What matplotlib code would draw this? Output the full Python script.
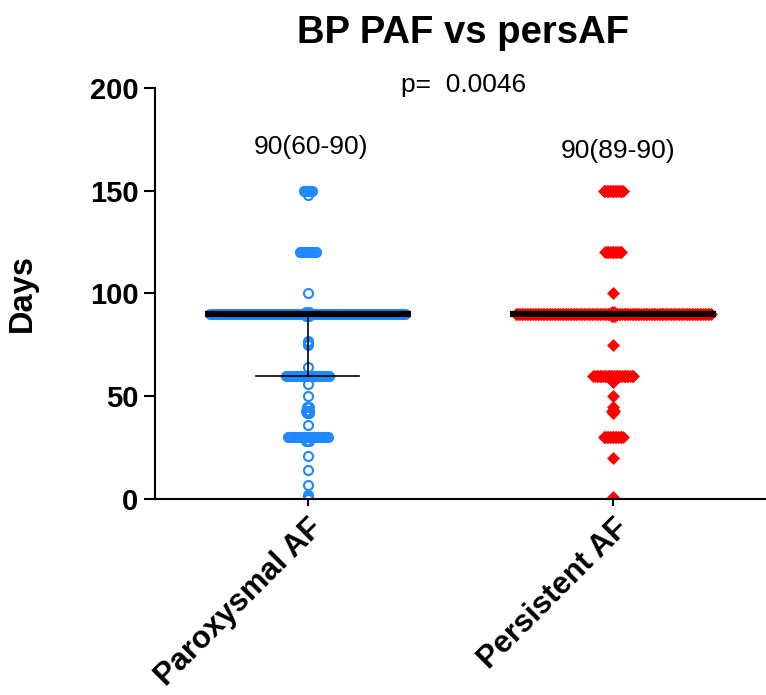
import numpy as np
import matplotlib
matplotlib.use("Agg")
import matplotlib.pyplot as plt

plt.rcParams['font.family'] = ['Liberation Sans', 'DejaVu Sans']

# data: value and how many points sit at it
groups = ["Paroxysmal AF", "Persistent AF"]

paf_values = [150, 148, 120, 100, 91, 90, 89, 77, 76, 75, 64, 60, 56, 50, 45, 43, 42, 36, 30, 28, 21, 14, 7, 2, 1, 0]
paf_counts = [6, 1, 11, 1, 3, 124, 3, 1, 1, 1, 1, 28, 1, 1, 2, 3, 2, 1, 26, 3, 1, 1, 1, 1, 1, 1]

pers_values = [150, 120, 100, 91, 90, 89, 75, 60, 57, 50, 45, 43, 42, 30, 20, 1]
pers_counts = [13, 11, 1, 2, 124, 3, 1, 26, 1, 1, 1, 2, 1, 13, 1, 1]

medians = [90, 90]
q1 = [60, 89]
q3 = [90, 90]
summary = ["90(60-90)", "90(89-90)"]
p_text = "p=  0.0046"

STEP = 0.0052  # horizontal spread between points at the same value


def spread(values, counts):
    xs, ys = [], []
    for v, n in zip(values, counts):
        off = (np.arange(n) - (n - 1) / 2.0) * STEP
        xs.extend(off)
        ys.extend([v] * n)
    return np.array(xs), np.array(ys)


fig = plt.figure(figsize=(7.66, 6.95), dpi=100)
ax = fig.add_axes([0.2023, 0.282, 0.7977, 0.5914])

x0, y0 = spread(paf_values, paf_counts)
ax.plot(x0 + 0, y0, 'o', mfc='none', mec='#1E88FF', mew=1.5, ms=6.5, zorder=2)

x1, y1 = spread(pers_values, pers_counts)
ax.plot(x1 + 1, y1, 'D', color='#FF0000', ms=6.5, mew=0.5, zorder=2)

# median and interquartile range
for i in range(2):
    ax.plot([i - 0.337, i + 0.337], [medians[i], medians[i]], color='black', lw=4.5, zorder=3,
            solid_capstyle='butt')
    ax.plot([i, i], [q1[i], q3[i]], color='black', lw=1.2, zorder=3)
    ax.plot([i - 0.169, i + 0.169], [q1[i], q1[i]], color='black', lw=1.2, zorder=3)
    ax.plot([i - 0.169, i + 0.169], [q3[i], q3[i]], color='black', lw=1.2, zorder=3)

ax.text(0.012, 171.5, summary[0], ha='center', va='center', fontsize=19)
ax.text(1.015, 169.5, summary[1], ha='center', va='center', fontsize=19)
ax.text(0.51, 201.5, p_text, ha='center', va='center', fontsize=19, clip_on=False)

ax.set_xlim(-0.5, 1.5)
ax.set_ylim(0, 200)
ax.set_yticks([0, 50, 100, 150, 200])
ax.set_xticks([0, 1])
ax.set_xticklabels(groups, rotation=45, ha='right', va='top', rotation_mode='anchor',
                   fontsize=22.3, fontweight='bold')
for lab in ax.get_yticklabels():
    lab.set_fontsize(21)
    lab.set_fontweight('bold')
ax.tick_params(axis='y', length=8, width=1.5, pad=4)
ax.tick_params(axis='x', length=5, width=1.5, pad=5)
ax.spines['top'].set_visible(False)
ax.spines['right'].set_visible(False)
ax.spines['left'].set_linewidth(1.5)
ax.spines['bottom'].set_linewidth(1.5)
ax.set_ylabel("Days", fontsize=23.5, fontweight='bold')
ax.yaxis.set_label_coords(-0.192, 0.5)

fig.suptitle("BP PAF vs persAF", x=0.605, y=0.979, fontsize=27.5, fontweight='bold')

fig.savefig("out.png", dpi=100)
